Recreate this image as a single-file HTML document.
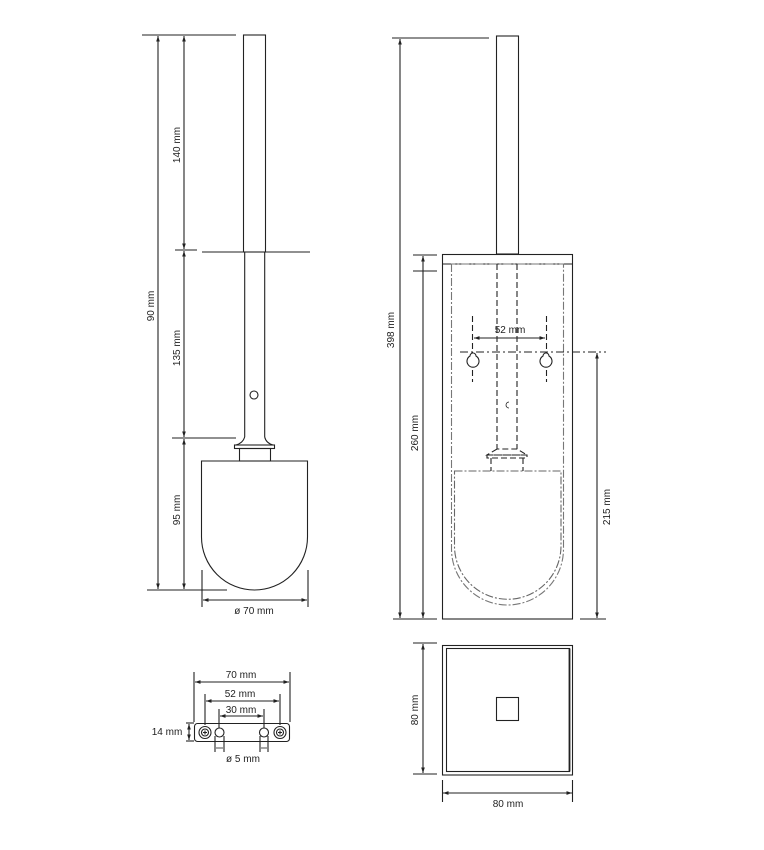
<!DOCTYPE html>
<html><head><meta charset="utf-8"><style>
html,body{margin:0;padding:0;background:#fff;}
svg{display:block;}
text{font-family:"Liberation Sans",sans-serif;font-size:10px;fill:#222;}
</style></head><body>
<svg width="764" height="850" viewBox="0 0 764 850" xmlns="http://www.w3.org/2000/svg">
<defs>
<marker id="a" viewBox="0 0 6 6" refX="6" refY="3" markerWidth="5" markerHeight="5" orient="auto-start-reverse"><path d="M0,1 L6,3 L0,5z" fill="#222"/></marker>
</defs>
<g stroke="#222" stroke-width="1.1" fill="none">
<!-- LEFT VIEW -->
<line x1="142" y1="35" x2="236" y2="35"/>
<rect x="243.5" y="35" width="22" height="217"/>
<line x1="175" y1="250" x2="197" y2="250"/>
<line x1="202" y1="252" x2="310" y2="252"/>
<line x1="244.7" y1="252" x2="244.7" y2="437"/>
<line x1="264.7" y1="252" x2="264.7" y2="437"/>
<circle cx="254" cy="395" r="4"/>
<line x1="172" y1="438" x2="236" y2="438"/>
<path d="M244.7,437 Q243,443 236,445 M264.7,437 Q266,443 273,445"/>
<rect x="234.5" y="445" width="40" height="3.5"/>
<rect x="239.5" y="448.5" width="31" height="12.5"/>
<path d="M201.5,461 H307.5 V537 A53,53 0 0 1 201.5,537 Z"/>
<line x1="147" y1="590" x2="227" y2="590"/>
<line x1="158" y1="36" x2="158" y2="589" marker-start="url(#a)" marker-end="url(#a)"/>
<line x1="184" y1="36" x2="184" y2="249" marker-start="url(#a)" marker-end="url(#a)"/>
<line x1="184" y1="251" x2="184" y2="437" marker-start="url(#a)" marker-end="url(#a)"/>
<line x1="184" y1="439" x2="184" y2="589" marker-start="url(#a)" marker-end="url(#a)"/>
<line x1="202" y1="570" x2="202" y2="607"/>
<line x1="308" y1="570" x2="308" y2="607"/>
<line x1="203" y1="600" x2="307" y2="600" marker-start="url(#a)" marker-end="url(#a)"/>

<!-- MIDDLE VIEW -->
<line x1="392" y1="38" x2="489" y2="38"/>
<rect x="496.5" y="36" width="22" height="218"/>
<rect x="442.5" y="254.5" width="130" height="364.5"/>
<line x1="442.5" y1="264" x2="572.5" y2="264"/>
<line x1="413" y1="255" x2="437" y2="255"/>
<line x1="413" y1="271" x2="437" y2="271"/>
<line x1="393" y1="619" x2="437" y2="619"/>
<line x1="400" y1="39" x2="400" y2="618" marker-start="url(#a)" marker-end="url(#a)"/>
<line x1="423" y1="256" x2="423" y2="618" marker-start="url(#a)" marker-end="url(#a)"/>
<!-- dash-dot outlines -->
<path d="M451.5,264 V549 A56,56 0 0 0 563.5,549 V264 Z" stroke="#777" stroke-dasharray="8,2,2,2"/>
<path d="M454.5,471 H561 V546 A53.25,53.25 0 0 1 454.5,546 Z" stroke="#666" stroke-dasharray="8,2,2,2"/>
<g stroke-dasharray="6,3">
<line x1="497" y1="264" x2="497" y2="449"/>
<line x1="517" y1="264" x2="517" y2="449"/>
<path d="M497,449 L487,455 H527 L517,449 Z"/>
<rect x="487" y="455" width="40" height="3"/>
<line x1="491" y1="458" x2="491" y2="471"/>
<line x1="523" y1="458" x2="523" y2="471"/>
<line x1="472.5" y1="316" x2="472.5" y2="382"/>
<line x1="546.5" y1="316" x2="546.5" y2="382"/>
</g>
<line x1="460" y1="352" x2="606" y2="352" stroke-dasharray="8,3,2,3"/>
<path d="M470,356 A3,3 0 1 1 476,356 A6,6 0 1 1 470,356 Z" fill="#fff"/>
<path d="M543,356 A3,3 0 1 1 549,356 A6,6 0 1 1 543,356 Z" fill="#fff"/>
<path d="M509,402 A3,3 0 1 0 509,408" stroke-width="0.8"/>
<line x1="474" y1="338" x2="545" y2="338" marker-start="url(#a)" marker-end="url(#a)"/>
<line x1="597" y1="353" x2="597" y2="618" marker-start="url(#a)" marker-end="url(#a)"/>
<line x1="580" y1="619" x2="606" y2="619"/>

<!-- BOTTOM SQUARE -->
<rect x="442.5" y="645.5" width="130" height="129.5"/>
<rect x="446.5" y="648.5" width="123" height="123"/>
<line x1="569.5" y1="648.5" x2="569.5" y2="771.5" stroke-width="1.8"/>
<rect x="496.5" y="697.5" width="22" height="23"/>
<line x1="413" y1="643" x2="437" y2="643"/>
<line x1="413" y1="774" x2="437" y2="774"/>
<line x1="423" y1="644" x2="423" y2="773" marker-start="url(#a)" marker-end="url(#a)"/>
<line x1="442.5" y1="780" x2="442.5" y2="802"/>
<line x1="572.5" y1="780" x2="572.5" y2="802"/>
<line x1="443" y1="793" x2="572" y2="793" marker-start="url(#a)" marker-end="url(#a)"/>

<!-- PLATE -->
<rect x="194.5" y="723.5" width="95" height="18" rx="3"/>
<circle cx="205" cy="732.5" r="6"/><circle cx="205" cy="732.5" r="3.5"/>
<path d="M203,732.5 H207 M205,730.5 V734.5"/>
<circle cx="280" cy="732.5" r="6"/><circle cx="280" cy="732.5" r="3.5"/>
<path d="M278,732.5 H282 M280,730.5 V734.5"/>
<circle cx="219.5" cy="732.5" r="4.5"/>
<circle cx="264" cy="732.5" r="4.5"/>
<line x1="194" y1="672" x2="194" y2="722"/>
<line x1="290" y1="672" x2="290" y2="722"/>
<line x1="195" y1="682" x2="289" y2="682" marker-start="url(#a)" marker-end="url(#a)"/>
<line x1="205" y1="694" x2="205" y2="725"/>
<line x1="280" y1="694" x2="280" y2="725"/>
<line x1="206" y1="701" x2="279" y2="701" marker-start="url(#a)" marker-end="url(#a)"/>
<line x1="219" y1="709" x2="219" y2="728"/>
<line x1="264" y1="709" x2="264" y2="728"/>
<line x1="220" y1="716" x2="263" y2="716" marker-start="url(#a)" marker-end="url(#a)"/>
<line x1="186" y1="723" x2="194" y2="723"/>
<line x1="186" y1="741" x2="194" y2="741"/>
<line x1="189" y1="724" x2="189" y2="740" marker-start="url(#a)" marker-end="url(#a)"/>
<line x1="215" y1="736" x2="215" y2="752"/>
<line x1="224" y1="736" x2="224" y2="752"/>
<line x1="260" y1="736" x2="260" y2="752"/>
<line x1="268" y1="736" x2="268" y2="752"/>
<line x1="216" y1="748" x2="223" y2="748" stroke-width="0.8"/>
<line x1="261" y1="748" x2="267" y2="748" stroke-width="0.8"/>
</g>

<g>
<text transform="translate(180,145) rotate(-90)" text-anchor="middle">140 mm</text>
<text transform="translate(154,306) rotate(-90)" text-anchor="middle">90 mm</text>
<text transform="translate(180,348) rotate(-90)" text-anchor="middle">135 mm</text>
<text transform="translate(180,510) rotate(-90)" text-anchor="middle">95 mm</text>
<text x="254" y="614" text-anchor="middle">ø 70 mm</text>
<text transform="translate(394,330) rotate(-90)" text-anchor="middle">398 mm</text>
<text transform="translate(418,433) rotate(-90)" text-anchor="middle">260 mm</text>
<text x="510" y="333" text-anchor="middle">52 mm</text>
<text transform="translate(610,507) rotate(-90)" text-anchor="middle">215 mm</text>
<text transform="translate(418,710) rotate(-90)" text-anchor="middle">80 mm</text>
<text x="508" y="807" text-anchor="middle">80 mm</text>
<text x="241" y="678" text-anchor="middle">70 mm</text>
<text x="240" y="697" text-anchor="middle">52 mm</text>
<text x="241" y="713" text-anchor="middle">30 mm</text>
<text x="167" y="735" text-anchor="middle">14 mm</text>
<text x="243" y="762" text-anchor="middle">ø 5 mm</text>
</g>
</svg>
</body></html>
